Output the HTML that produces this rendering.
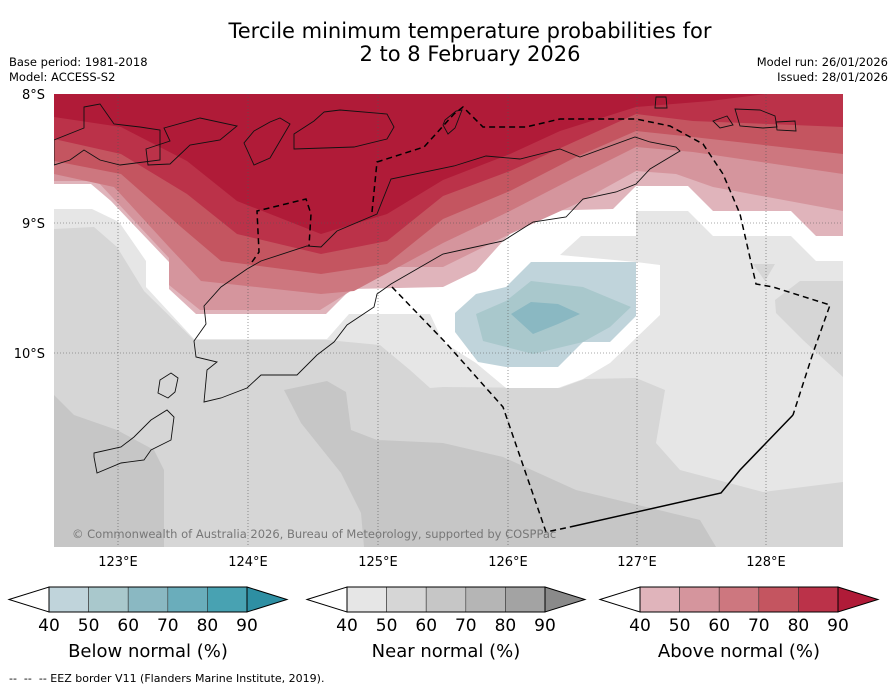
<!DOCTYPE html>
<html><head><meta charset="utf-8"><style>
body{margin:0;width:896px;height:690px;background:#fff;font-family:"DejaVu Sans","Liberation Sans",sans-serif;position:relative;overflow:hidden}
.t{position:absolute;white-space:nowrap;color:#000}
</style></head><body>
<div class="t" style="left:0;width:940px;text-align:center;top:20px;font-size:21px;line-height:23px">Tercile minimum temperature probabilities for<br>2 to 8 February 2026</div>
<div class="t" style="left:9px;top:55px;font-size:11.5px">Base period: 1981-2018</div>
<div class="t" style="left:9px;top:70px;font-size:11.5px">Model: ACCESS-S2</div>
<div class="t" style="right:8px;top:55px;font-size:11.5px;text-align:right">Model run: 26/01/2026</div>
<div class="t" style="right:8px;top:70px;font-size:11.5px;text-align:right">Issued: 28/01/2026</div>

<svg width="896" height="690" style="position:absolute;left:0;top:0">
<defs><clipPath id="mc"><rect x="54" y="94" width="789" height="453"/></clipPath></defs>
<g clip-path="url(#mc)">
<rect x="54" y="94" width="789" height="453" fill="#d6d6d6"/>
<polygon fill="#c6c6c6" points="54,395 74,415 117,430 154,450 164,470 164,547 54,547"/>
<polygon fill="#c6c6c6" points="284,390 327,381 346,392 351,430 377,440 443,443 503,457 576,490 700,520 716,547 364,547 361,513 341,473 301,423"/>
<polygon fill="#e6e6e6" points="54,94 843,94 843,482 763,492 680,470 656,443 665,390 636,378 585,379 560,388 443,387 430,388 410,370 380,345 327,340 194,340 144,291 117,247 94,227 54,229"/>
<polygon fill="#d6d6d6" points="775,300 800,281 843,281 843,377 803,340 776,313"/>
<polygon fill="#d6d6d6" points="753,264 775,264 765,281"/>
<polygon fill="#ffffff" points="54,94 843,94 843,261 816,261 791,236 713,236 688,211 636,211 636,236 581,236 560,255 636,262 660,265 660,315 636,338 610,363 583,379 558,388 506,388 476,363 443,342 430,314 349,314 327,339 194,339 146,287 146,261 119,222 92,209 54,209"/>
<polygon fill="#c0d4db" points="531,262 636,262 636,316 610,342 583,342 558,367 506,367 478,362 455,332 455,313 476,294 506,287"/>
<polygon fill="#a9c8cc" points="506,301 531,281 583,287 631,307 610,327 583,342 533,354 483,341 476,314"/>
<polygon fill="#8ab8c2" points="511,314 531,302 558,304 580,314 558,324 533,334"/>
<polygon fill="#e0b4bb" points="54,94 843,94 843,236 816,236 791,211 713,211 688,186 636,186 613,209 533,211 503,241 476,271 443,287 351,289 326,314 196,314 169,289 169,262 111,201 91,184 54,184"/>
<polygon fill="#d5959d" points="54,94 843,94 843,211 713,187 676,174 636,171 576,204 510,234 443,267 387,267 354,289 320,310 200,310 169,285 169,258 97,181 54,181"/>
<polygon fill="#cd777f" points="54,94 843,94 843,174 693,152 636,147 576,177 510,211 443,243 354,291 321,294 201,281 169,247 114,187 54,174"/>
<polygon fill="#c45560" points="54,94 843,94 843,154 693,137 636,131 576,157 510,191 443,219 387,264 321,274 221,261 181,227 121,174 54,161"/>
<polygon fill="#bb3249" points="54,94 843,94 843,127 693,121 636,114 576,141 510,171 443,196 387,241 321,254 237,234 187,194 121,154 54,139"/>
<polygon fill="#b01b38" points="54,94 766,94 710,101 636,107 560,131 510,154 443,180 387,214 321,234 237,201 187,161 121,127 54,117"/>
</g>
<g stroke="#555" stroke-width="0.6" stroke-dasharray="1,2" fill="none">
<line x1="118" y1="94" x2="118" y2="547"/><line x1="248" y1="94" x2="248" y2="547"/><line x1="378" y1="94" x2="378" y2="547"/><line x1="508" y1="94" x2="508" y2="547"/><line x1="637" y1="94" x2="637" y2="547"/><line x1="766" y1="94" x2="766" y2="547"/>
<line x1="54" y1="223" x2="843" y2="223"/><line x1="54" y1="353" x2="843" y2="353"/>
</g>
<g clip-path="url(#mc)" fill="none" stroke="#111" stroke-width="0.9">
<polygon points="196,357 194,341 206,324 204,306 221,287 247,269 261,261 307,246 321,247 337,231 377,214 391,179 454,166 486,156 520,159 560,149 580,157 635,137 650,142 676,147 680,151 650,169 636,184 616,192 583,199 566,217 533,222 503,241 466,249 443,254 391,284 377,294 374,307 347,325 334,342 317,355 297,375 261,375 247,388 221,398 204,402 207,370 217,362"/>
<polygon points="160,380 171,373 178,378 175,392 168,398 158,393"/>
<polygon points="94,453 121,447 134,437 151,420 167,410 174,417 171,440 151,450 144,460 121,463 97,473 94,457"/>
<polygon points="324,112 340,110 387,114 394,127 387,139 354,147 294,149 294,134 314,121"/>
<polygon points="254,131 270,122 280,118 290,124 270,158 254,165 244,143"/>
<polygon points="164,128 200,118 237,126 220,140 190,145 170,164 148,165 146,149 170,141"/>
<polygon points="84,107 100,104 114,124 140,127 160,130 160,160 120,165 100,160 84,150 70,160 54,165 54,140 84,128"/>
<polygon points="445,120 456,111 462,110 455,128 448,134 443,125"/>
<polygon points="656,97 666,97 667,108 655,108"/>
<polygon points="713,121 727,116 733,125 720,128"/>
<polygon points="735,109 760,110 775,116 777,127 763,128 740,126"/>
<polygon points="776,122 795,121 796,131 777,130"/>
</g>
<g fill="none" stroke="#000" stroke-width="1.5" stroke-dasharray="6,4">
<polyline points="252,262 259,252 257,211 306,199 311,214 309,246"/>
<polyline points="372,212 377,162 424,147 454,114 463,107 483,127 526,127 560,119 636,119 670,126 703,144 723,174 740,214 756,284 773,287 830,305 813,353 793,415"/>
<polyline points="392,287 446,343 503,407 546,532 570,527"/>
</g>
<polyline fill="none" stroke="#000" stroke-width="1.5" points="793,415 766,443 740,470 721,493 570,527"/>
<g font-size="13" text-anchor="end" fill="#000">
<text x="45" y="99">8°S</text><text x="45" y="228">9°S</text><text x="45" y="358">10°S</text>
</g>
<g font-size="13" text-anchor="middle" fill="#000">
<text x="118" y="566">123°E</text><text x="248" y="566">124°E</text><text x="378" y="566">125°E</text><text x="508" y="566">126°E</text><text x="637" y="566">127°E</text><text x="766" y="566">128°E</text>
</g>
<text x="72" y="538" font-size="11.5" fill="#777">© Commonwealth of Australia 2026, Bureau of Meteorology, supported by COSPPac</text>
<g id="cbars" font-family="'DejaVu Sans',sans-serif"></g>
</svg>
<div class="t" style="left:9px;top:672px;font-size:11px">-- &nbsp;-- &nbsp;-- EEZ border V11 (Flanders Marine Institute, 2019).</div>
<script>
const tickLabels=["40","50","60","70","80","90"];
const belowColors=["#c0d4db","#a9c8cc","#8ab8c2","#6aadbb","#48a2b2","#2e8fa3"];
const nearColors=["#e6e6e6","#d6d6d6","#c6c6c6","#b5b5b5","#a3a3a3","#8a8a8a"];
const aboveColors=["#e0b4bb","#d5959d","#cd777f","#c45560","#bb3249","#b01b38"];
const barTitles=["Below normal (%)","Near normal (%)","Above normal (%)"];
const NS="http://www.w3.org/2000/svg";
const g=document.getElementById('cbars');
const bars=[[49,belowColors],[347,nearColors],[640,aboveColors]];
bars.forEach(function(b,i){
  const x0=b[0],cols=b[1],w=198,y0=587,h=25,seg=w/5;
  const grp=document.createElementNS(NS,'g');
  
  
  g.appendChild(grp);
  const lt=document.createElementNS(NS,'polygon');
  lt.setAttribute('points',(x0-40)+','+(y0+h/2)+' '+x0+','+y0+' '+x0+','+(y0+h));
  lt.setAttribute('fill','#fff');lt.setAttribute('stroke','#000');lt.setAttribute('stroke-width','1');
  
  
  grp.appendChild(lt);
  for(let k=0;k<5;k++){
    const r=document.createElementNS(NS,'rect');
    r.setAttribute('x',x0+k*seg);r.setAttribute('y',y0);r.setAttribute('width',seg);r.setAttribute('height',h);
    r.setAttribute('fill',cols[k]);r.setAttribute('stroke','#333');r.setAttribute('stroke-width','0.6');
    
    
    grp.appendChild(r);
  }
  const rt=document.createElementNS(NS,'polygon');
  rt.setAttribute('points',(x0+w)+','+y0+' '+(x0+w+40)+','+(y0+h/2)+' '+(x0+w)+','+(y0+h));
  rt.setAttribute('fill',cols[5]);rt.setAttribute('stroke','#000');rt.setAttribute('stroke-width','1');
  
  
  grp.appendChild(rt);
  const fr=document.createElementNS(NS,'rect');
  fr.setAttribute('x',x0);fr.setAttribute('y',y0);fr.setAttribute('width',w);fr.setAttribute('height',h);
  fr.setAttribute('fill','none');fr.setAttribute('stroke','#000');fr.setAttribute('stroke-width','1');
  grp.appendChild(fr);
  tickLabels.forEach(function(lab,k){
    const t=document.createElementNS(NS,'text');
    t.setAttribute('x',x0+k*seg);t.setAttribute('y',631);t.setAttribute('font-size','17');t.setAttribute('text-anchor','middle');
    
    
    t.textContent=lab;grp.appendChild(t);
  });
  const tt=document.createElementNS(NS,'text');
  tt.setAttribute('x',x0+w/2);tt.setAttribute('y',657);tt.setAttribute('font-size','18');tt.setAttribute('text-anchor','middle');
  
  
  tt.textContent=barTitles[i];grp.appendChild(tt);
});
</script>
</body></html>
